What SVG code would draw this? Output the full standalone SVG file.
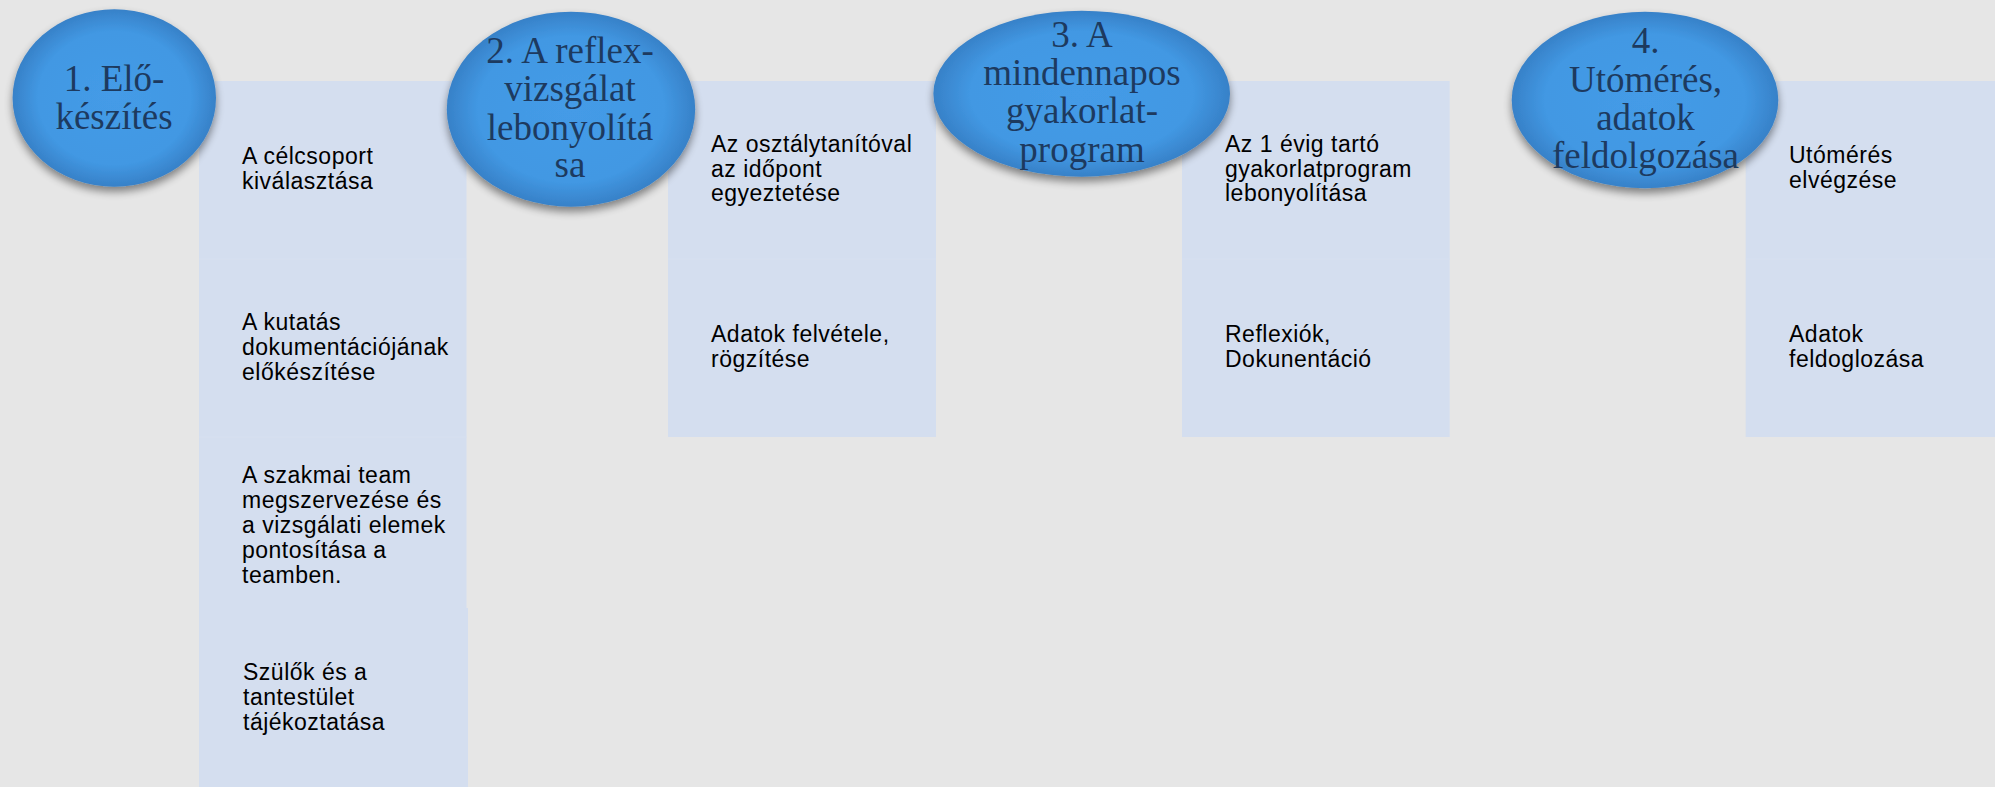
<svg xmlns="http://www.w3.org/2000/svg" width="1995" height="787" viewBox="0 0 1995 787">
<style>
.bg{fill:#e6e6e6}
.panel{fill:#d4deef}
.seam{stroke:#d7e0f0;stroke-width:1}
.step{fill:url(#stepGrad);filter:url(#shadow)}
.stxt{font-family:"Liberation Serif","Times New Roman",serif;font-size:37px;fill:#1d3a5f;text-anchor:middle}
.ptxt{font-family:"Liberation Sans",Arial,sans-serif;font-size:23px;letter-spacing:0.5px;fill:#000}
</style>
<defs>
<radialGradient id="stepGrad" cx="50%" cy="50%" r="50%">
<stop offset="0" stop-color="#449be7"/>
<stop offset="0.75" stop-color="#4298e3"/>
<stop offset="1" stop-color="#3781c8"/>
</radialGradient>
<filter id="shadow" x="-20%" y="-20%" width="140%" height="150%">
<feGaussianBlur in="SourceAlpha" stdDeviation="4"/>
<feOffset dx="0" dy="5" result="b"/>
<feComponentTransfer><feFuncA type="linear" slope="0.45"/></feComponentTransfer>
<feMerge><feMergeNode/><feMergeNode in="SourceGraphic"/></feMerge>
</filter>
</defs>
<rect class="bg" x="0" y="0" width="1995" height="787"/>

<g id="connectors"></g>

<g id="panel1">
<rect class="panel" x="199" y="81" width="267.5" height="178"/>
<rect class="panel" x="199" y="259" width="267.5" height="178"/>
<rect class="panel" x="199" y="437" width="267.5" height="171"/>
<rect class="panel" x="199" y="608" width="269" height="179"/>
<line class="seam" x1="199" y1="259" x2="466.5" y2="259"/>
<line class="seam" x1="199" y1="437" x2="466.5" y2="437"/>
<text class="ptxt"><tspan x="242" y="164">A célcsoport</tspan><tspan x="242" y="189">kiválasztása</tspan></text>
<text class="ptxt"><tspan x="242" y="330">A kutatás</tspan><tspan x="242" y="355">dokumentációjának</tspan><tspan x="242" y="380">előkészítése</tspan></text>
<text class="ptxt"><tspan x="242" y="483">A szakmai team</tspan><tspan x="242" y="508">megszervezése és</tspan><tspan x="242" y="533">a vizsgálati elemek</tspan><tspan x="242" y="558">pontosítása a</tspan><tspan x="242" y="583">teamben.</tspan></text>
<text class="ptxt"><tspan x="243" y="680">Szülők és a</tspan><tspan x="243" y="705">tantestület</tspan><tspan x="243" y="730">tájékoztatása</tspan></text>
</g>

<g id="panel2">
<rect class="panel" x="668" y="81" width="268" height="178"/>
<rect class="panel" x="668" y="259" width="268" height="178"/>
<line class="seam" x1="668" y1="259" x2="936" y2="259"/>
<text class="ptxt"><tspan x="711" y="152">Az osztálytanítóval</tspan><tspan x="711" y="177">az időpont</tspan><tspan x="711" y="201">egyeztetése</tspan></text>
<text class="ptxt"><tspan x="711" y="342">Adatok felvétele,</tspan><tspan x="711" y="367">rögzítése</tspan></text>
</g>

<g id="panel3">
<rect class="panel" x="1182" y="81" width="267.7" height="178"/>
<rect class="panel" x="1182" y="259" width="267.7" height="178"/>
<line class="seam" x1="1182" y1="259" x2="1449.7" y2="259"/>
<text class="ptxt"><tspan x="1225" y="152">Az 1 évig tartó</tspan><tspan x="1225" y="177">gyakorlatprogram</tspan><tspan x="1225" y="201">lebonyolítása</tspan></text>
<text class="ptxt"><tspan x="1225" y="342">Reflexiók,</tspan><tspan x="1225" y="367">Dokunentáció</tspan></text>
</g>

<g id="panel4">
<rect class="panel" x="1745.7" y="81" width="268" height="178"/>
<rect class="panel" x="1745.7" y="259" width="268" height="178"/>
<line class="seam" x1="1745.7" y1="259" x2="1995" y2="259"/>
<text class="ptxt"><tspan x="1789" y="163">Utómérés</tspan><tspan x="1789" y="188">elvégzése</tspan></text>
<text class="ptxt"><tspan x="1789" y="342">Adatok</tspan><tspan x="1789" y="367">feldoglozása</tspan></text>
</g>

<g id="step1">
<ellipse class="step" cx="114.3" cy="98" rx="101.7" ry="88.7"/>
<text class="stxt"><tspan x="114" y="91">1. Elő-</tspan><tspan x="114" y="128.5">készítés</tspan></text>
</g>

<g id="step2">
<ellipse class="step" cx="571" cy="109.2" rx="124.2" ry="97.5"/>
<text class="stxt"><tspan x="570" y="63.3">2. A reflex-</tspan><tspan x="570" y="101">vizsgálat</tspan><tspan x="570" y="139.5">lebonyolítá</tspan><tspan x="570" y="177">sa</tspan></text>
</g>

<g id="step3">
<ellipse class="step" cx="1081.7" cy="93.7" rx="148.3" ry="83"/>
<text class="stxt"><tspan x="1082" y="46.7">3. A</tspan><tspan x="1082" y="85">mindennapos</tspan><tspan x="1082" y="123.3">gyakorlat-</tspan><tspan x="1082" y="161.7">program</tspan></text>
</g>

<g id="step4">
<ellipse class="step" cx="1645" cy="100" rx="133.3" ry="88.3"/>
<text class="stxt"><tspan x="1645.5" y="53.3">4.</tspan><tspan x="1645.5" y="91.5">Utómérés,</tspan><tspan x="1645.5" y="130">adatok</tspan><tspan x="1645.5" y="168.3">feldolgozása</tspan></text>
</g>
</svg>
